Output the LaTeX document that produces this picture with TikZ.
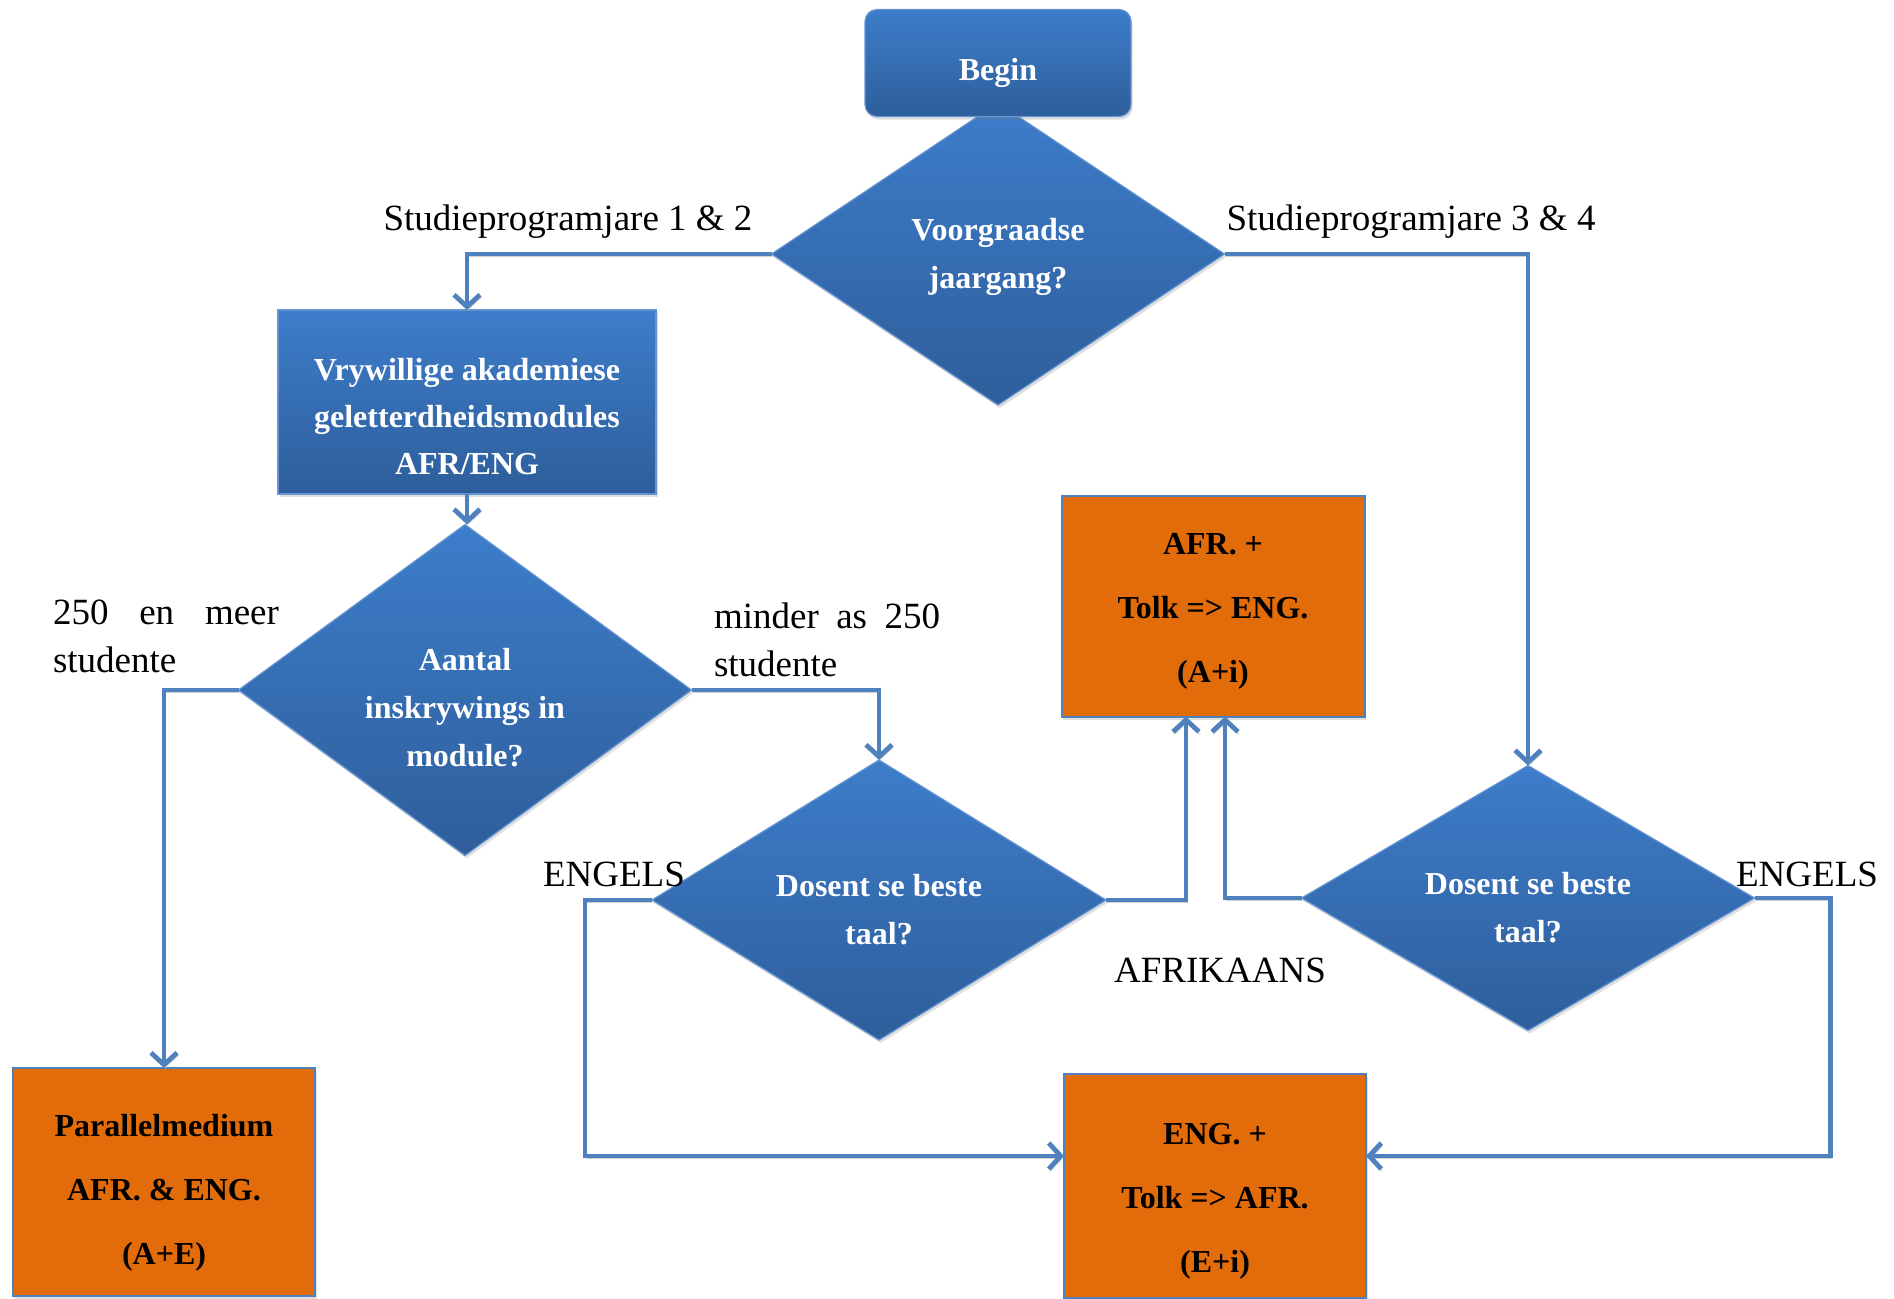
\documentclass[tikz,border=0pt]{standalone}
\usepackage{fontspec}
\setmainfont{Liberation Serif}
\usetikzlibrary{shapes.geometric, arrows.meta, shadows}
\definecolor{bluetop}{HTML}{3D7DCA}
\definecolor{bluebottom}{HTML}{2E5E9B}
\definecolor{blueedge}{HTML}{6494D2}
\definecolor{outcome}{HTML}{E36C0A}
\definecolor{flow}{HTML}{4F81BD}
\tikzstyle{bluefill}=[top color=bluetop, bottom color=bluebottom, draw=blueedge, line width=0.6pt, outer sep=0pt, drop shadow={opacity=0.25, shadow xshift=0.8pt, shadow yshift=-1.5pt}]
\tikzstyle{start}=[rectangle, rounded corners=6pt, bluefill, minimum width=133pt, minimum height=53.5pt, text=white, font=\bfseries\fontsize{16}{20}\selectfont]
\tikzstyle{decision}=[diamond, bluefill, aspect=1.6, inner sep=0pt, text=white, align=center, font=\bfseries\fontsize{16}{24}\selectfont]
\tikzstyle{process}=[rectangle, bluefill, inner sep=0pt, text=white, align=center, font=\bfseries\fontsize{16}{23.5}\selectfont]
\tikzstyle{result}=[rectangle, fill=outcome, draw=flow, line width=1pt, outer sep=0pt, inner sep=0pt, align=center, drop shadow={opacity=0.25, shadow xshift=0.8pt, shadow yshift=-1.5pt}, font=\bfseries\fontsize{16}{32}\selectfont]
\tikzstyle{answer}=[inner sep=0pt, font=\fontsize{18.5}{24}\selectfont]
\tikzstyle{flowarrow}=[draw=flow, line width=2.4pt, -{Straight Barb[length=6pt, width=13pt]}, preaction={draw=black!18, transform canvas={xshift=0.6pt, yshift=-1.4pt}}]
\newcommand{\decision}{\node[decision]}
\newcommand{\process}{\node[process]}
\newcommand{\result}{\node[result]}
\newcommand{\answer}{\node[answer]}
% pushes the first line of a box down
\newcommand{\pad}[1]{\rule{0pt}{#1pt}}

\begin{document}
\begin{tikzpicture}[x=0.5pt, y=-0.5pt]
\useasboundingbox (0,0) rectangle (1894,1298);

% top of the chart
\decision[minimum width=226.5pt, minimum height=151pt] (year) at (998,254) {\pad{14.5}Voorgraadse\\jaargang?};
\node[start] (begin) at (998,63) {\pad{20.6}Begin};
\answer (juniors) at (568,222) {Studieprogramjare 1 \& 2};
\answer (seniors) at (1411,222) {Studieprogramjare 3 \& 4};

% years 1 & 2
\process[minimum width=189pt, minimum height=92pt] (literacy) at (467,402) {\pad{25.4}Vrywillige akademiese\\geletterdheidsmodules\\AFR/ENG};
\decision[minimum width=226.5pt, minimum height=165.5pt] (count) at (465,690) {\pad{28.9}Aantal\\inskrywings in\\module?};
\answer[text width=113pt, align=left] (many) at (166,636) {250\hfill en\hfill meer\\studente};
\answer[text width=113pt, align=left] (few) at (827,640) {minder\hfill as\hfill 250\\studente};
\result[minimum width=151pt, minimum height=114pt] (parallel) at (164,1182) {\pad{21.7}Parallelmedium\\AFR. \& ENG.\\(A+E)};
\decision[minimum width=227pt, minimum height=140pt] (lecturerA) at (879,900) {\pad{20.6}Dosent se beste\\taal?};

% years 3 & 4
\decision[minimum width=226.5pt, minimum height=132.5pt] (lecturerB) at (1528,898) {\pad{20.6}Dosent se beste\\taal?};

% outcomes
\result[minimum width=151.5pt, minimum height=110.5pt] (afrbox) at (1213,606) {\pad{15.7}AFR. +\\Tolk => ENG.\\(A+i)};
\result[minimum width=151pt, minimum height=112pt] (engbox) at (1215,1186) {\pad{25.4}ENG. +\\Tolk => AFR.\\(E+i)};
\answer (engA) at (614,874) {ENGELS};
\answer (engB) at (1807,874) {ENGELS};
\answer (afrikaans) at (1220,970) {AFRIKAANS};

\draw[flowarrow] (year.west) -| (literacy.north);
\draw[flowarrow] (year.east) -| (lecturerB.north);
\draw[flowarrow] (literacy.south) -- (literacy.south |- count.north);
\draw[flowarrow] (count.west) -| (parallel.north);
\draw[flowarrow] (count.east) -| (lecturerA.north);
\draw[flowarrow] (lecturerA.east) -| ([xshift=-13.5pt]afrbox.south);
\draw[flowarrow] (lecturerB.west) -| ([xshift=6pt]afrbox.south);
\draw[flowarrow] (lecturerA.west) -- ++(-67,0) |- ([yshift=15pt]engbox.west);
\draw[flowarrow] (lecturerB.east) -- ++(76,0) |- ([yshift=15pt]engbox.east);
\end{tikzpicture}
\end{document}
